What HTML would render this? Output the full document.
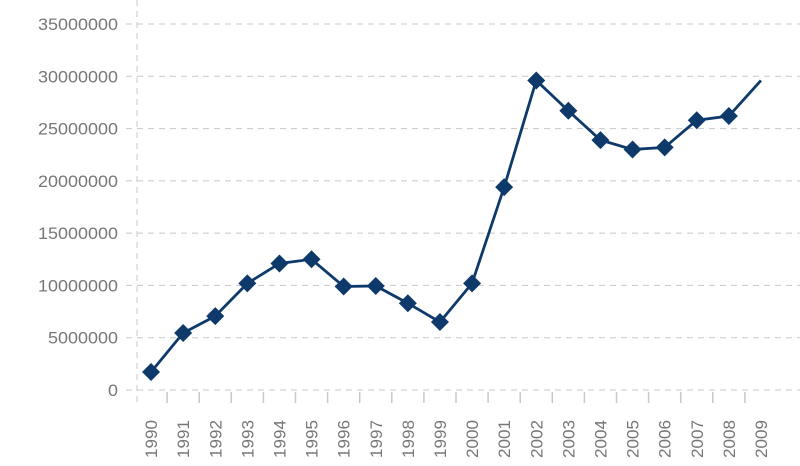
<!DOCTYPE html>
<html><head><meta charset="utf-8"><style>
html,body{margin:0;padding:0;background:#fff;width:800px;height:466px;overflow:hidden}
text{font-family:"Liberation Sans",sans-serif;font-size:17px;fill:#777}
</style></head><body>
<svg id="chart" width="800" height="466" xmlns="http://www.w3.org/2000/svg"></svg>
<script>
const categories=["1990","1991","1992","1993","1994","1995","1996","1997","1998","1999","2000","2001","2002","2003","2004","2005","2006","2007","2008","2009"];
const values=[1720000,5450000,7070000,10200000,12100000,12500000,9900000,9950000,8300000,6500000,10200000,19400000,29600000,26700000,23900000,23000000,23200000,25800000,26200000,29600000];
const yTicks=[0,5000000,10000000,15000000,20000000,25000000,30000000,35000000];
const NS="http://www.w3.org/2000/svg";
const svg=document.getElementById('chart');
const x0=135,bw=32.1,y0=390,yTop=24,yMax=35000000;
const xs=i=>x0+bw*(i+0.5);
const ys=v=>y0-(v/yMax)*(y0-yTop);
function mk(t,a){const e=document.createElementNS(NS,t);for(const k in a)e.setAttribute(k,a[k]);svg.appendChild(e);return e;}
yTicks.forEach(v=>{
 const g=mk('line',{x1:126,x2:800,y1:ys(v),y2:ys(v),stroke:'#c8c8c8','stroke-dasharray':'6,5','stroke-width':1});
 
 
 const s=String(v);
 const t=mk('text',{x:118,y:ys(v)+6,'text-anchor':'end',textLength:s.length*10,lengthAdjust:'spacingAndGlyphs'});t.textContent=s;
 
 
});
const ax=mk('line',{x1:137,x2:137,y1:0,y2:404,stroke:'#c8c8c8','stroke-dasharray':'6,5'});


categories.forEach((c,i)=>{
 if(i>0){const tk=mk('line',{x1:x0+bw*i,x2:x0+bw*i,y1:392,y2:403,stroke:'#c8c8c8','stroke-width':1.5});
 
 }
 const t=mk('text',{transform:`translate(${xs(i)+6},458) rotate(-90)`,'text-anchor':'start',textLength:38,lengthAdjust:'spacingAndGlyphs'});t.textContent=c;
 
 
});
const pl=mk('polyline',{points:values.map((v,i)=>xs(i)+','+ys(v)).join(' '),fill:'none',stroke:'#0d3a6b','stroke-width':2.8});


values.forEach((v,i)=>{
 if(i===values.length-1)return;
 const x=xs(i),y=ys(v),r=9;
 const m=mk('polygon',{points:`${x},${y-r} ${x+r},${y} ${x},${y+r} ${x-r},${y}`,fill:'#0d3a6b'});
 
 
});
</script>
</body></html>
